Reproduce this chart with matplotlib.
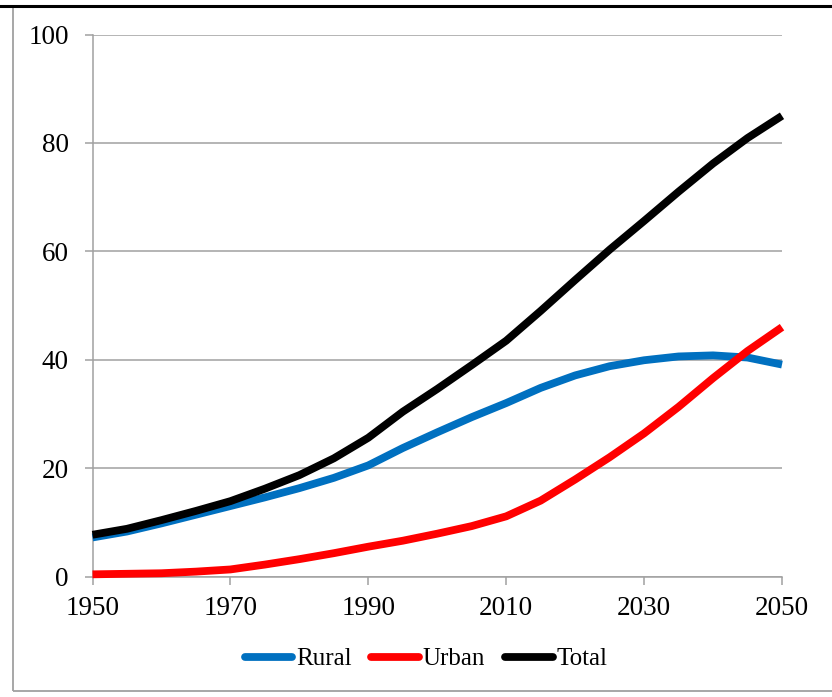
import matplotlib
matplotlib.use("Agg")
import matplotlib.pyplot as plt
from matplotlib.lines import Line2D
from matplotlib.patches import Rectangle

years = [1950, 1955, 1960, 1965, 1970, 1975, 1980, 1985, 1990, 1995, 2000,
         2005, 2010, 2015, 2020, 2025, 2030, 2035, 2040, 2045, 2050]
rural = [7.2, 8.3, 9.8, 11.4, 13.0, 14.6, 16.3, 18.2, 20.5, 23.7, 26.6,
         29.4, 32.0, 34.8, 37.1, 38.8, 39.9, 40.6, 40.8, 40.4, 39.1]
urban = [0.4, 0.5, 0.6, 0.9, 1.3, 2.2, 3.2, 4.3, 5.5, 6.6, 7.9,
         9.3, 11.1, 14.0, 17.9, 22.0, 26.4, 31.3, 36.6, 41.6, 46.0]
total = [7.7, 8.8, 10.4, 12.1, 13.9, 16.2, 18.7, 21.8, 25.6, 30.4, 34.6,
         39.0, 43.5, 49.0, 54.7, 60.3, 65.6, 71.0, 76.2, 80.9, 85.0]
series_names = ["Rural", "Urban", "Total"]
x_ticks = [1950, 1970, 1990, 2010, 2030, 2050]
y_ticks = [0, 20, 40, 60, 80, 100]

plt.rcParams['font.family'] = ['Liberation Serif', 'DejaVu Serif']

W, H = 832, 697
fig = plt.figure(figsize=(W / 100, H / 100), dpi=100)
ax = fig.add_axes([92.5 / W, 1 - 576.5 / H, (782 - 92.5) / W, (576.5 - 34.5) / H])

grey = "#a0a0a0"
lw = 5.6
ax.plot(years, rural, color="#0070C0", lw=lw, label=series_names[0],
        solid_capstyle="butt", solid_joinstyle="round", zorder=3)
ax.plot(years, urban, color="#FF0000", lw=lw, label=series_names[1],
        solid_capstyle="butt", solid_joinstyle="round", zorder=4)
ax.plot(years, total, color="#000000", lw=lw, label=series_names[2],
        solid_capstyle="butt", solid_joinstyle="round", zorder=5)

ax.set_xlim(1950, 2050)
ax.set_ylim(0, 100)
ax.set_xticks(x_ticks)
ax.set_yticks(y_ticks)
ax.yaxis.grid(True, color=grey, lw=1.1)
ax.set_axisbelow(True)
for s in ["top", "right"]:
    ax.spines[s].set_visible(False)
for s in ["left", "bottom"]:
    ax.spines[s].set_color(grey)
    ax.spines[s].set_linewidth(1.1)
ax.tick_params(axis="both", direction="out", length=6, width=1.1, color=grey,
               labelsize=19.5, labelcolor="black")
ax.tick_params(axis="y", pad=11)
ax.tick_params(axis="x", pad=8)
for c in ax.get_lines():
    c.set_clip_on(False)

leg = fig.legend(loc="center", bbox_to_anchor=(426 / W, 1 - 659 / H), ncol=3,
                 frameon=False, fontsize=18, handlelength=1.9, handletextpad=0.15,
                 columnspacing=0.8, borderaxespad=0)
for l in leg.get_lines():
    l.set_linewidth(lw)
    l.set_solid_capstyle("round")

# outer frame and top rule
fig.add_artist(Rectangle((13 / W, 1 - 691 / H), 1.0, (691 - 7) / H,
                         transform=fig.transFigure, fill=False, edgecolor=grey,
                         lw=1.3, clip_on=False))
fig.add_artist(Line2D([0, 1], [1 - 5.5 / H] * 2, transform=fig.transFigure,
                      color="black", lw=2.2))

fig.savefig("out.png", dpi=100)
